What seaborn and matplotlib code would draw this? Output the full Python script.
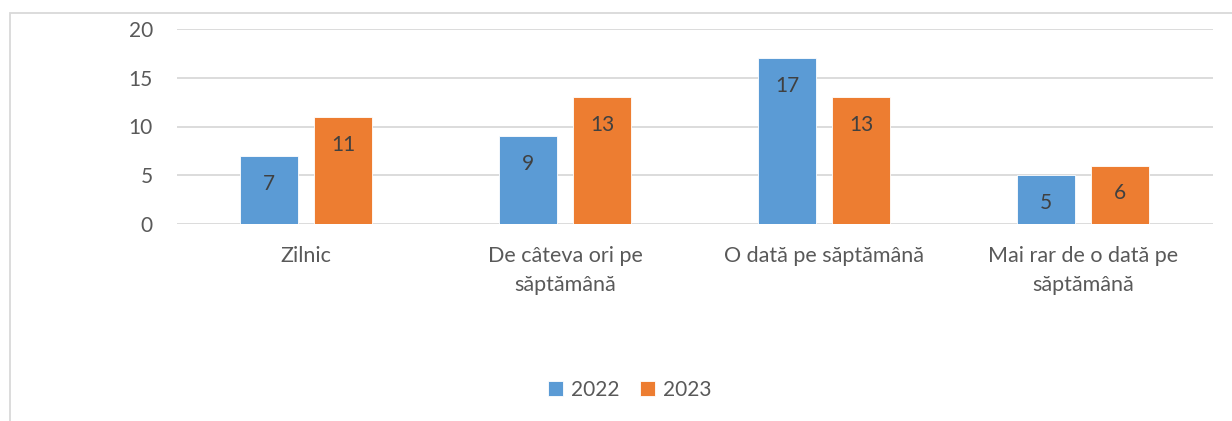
import numpy as np
import pandas as pd
import matplotlib.pyplot as plt
import seaborn as sns
from matplotlib.patches import Rectangle

categories = ["Zilnic", "De câteva ori pe\nsăptămână", "O dată pe săptămână",
              "Mai rar de o dată pe\nsăptămână"]
years = ["2022", "2023"]
values_2022 = [7, 9, 17, 5]
values_2023 = [11, 13, 13, 6]

df = pd.DataFrame({
    "cat": categories * 2,
    "year": [years[0]] * 4 + [years[1]] * 4,
    "val": values_2022 + values_2023,
})

sns.set_style("white")
plt.rcParams['font.family'] = ['Lato', 'DejaVu Sans']
txt = "#595959"

fig = plt.figure(figsize=(12.32, 4.21), dpi=100)
ax = fig.add_axes([176.5 / 1232, 1 - 224 / 421, (1212.5 - 176.5) / 1232, (224 - 29) / 421])

sns.barplot(data=df, x="cat", y="val", hue="year", palette=["#5B9BD5", "#ED7D31"],
            saturation=1, width=0.571, gap=0.216, ax=ax, edgecolor="white", linewidth=0.6)

for p in ax.patches:
    h = p.get_height()
    if h > 0:
        ax.annotate(f"{h:.0f}", (p.get_x() + p.get_width() / 2, h),
                    xytext=(0, -20), textcoords="offset points",
                    ha="center", va="center", fontsize=15, color="#404040")

ax.set_ylim(0, 20)
ax.set_yticks([0, 5, 10, 15, 20])
ax.grid(axis="y", color="#d9d9d9", linewidth=1.3)
ax.set_axisbelow(True)
for s in ax.spines.values():
    s.set_visible(False)
ax.set_xlabel("")
ax.set_ylabel("")
ax.tick_params(axis="y", length=0, pad=17, labelsize=15, labelcolor=txt)
ax.tick_params(axis="x", length=0, pad=16, labelsize=15.5, labelcolor=txt)
for lbl in ax.get_xticklabels():
    lbl.set_linespacing(1.55)

ax.get_legend().remove()
handles, labels = ax.get_legend_handles_labels()
fig.legend(handles, labels, loc="center", bbox_to_anchor=(630 / 1232, 1 - 390 / 421),
           ncol=2, frameon=False, handlelength=0.7, handleheight=0.7,
           handletextpad=0.4, columnspacing=1.0, fontsize=15, labelcolor=txt)

# chart border
fig.patches.append(Rectangle((10 / 1232, -0.1), 1.2, 1.1 - 13 / 421,
                             transform=fig.transFigure, fill=False,
                             edgecolor="#d9d9d9", linewidth=1.3))

fig.savefig("out.png", dpi=100)
